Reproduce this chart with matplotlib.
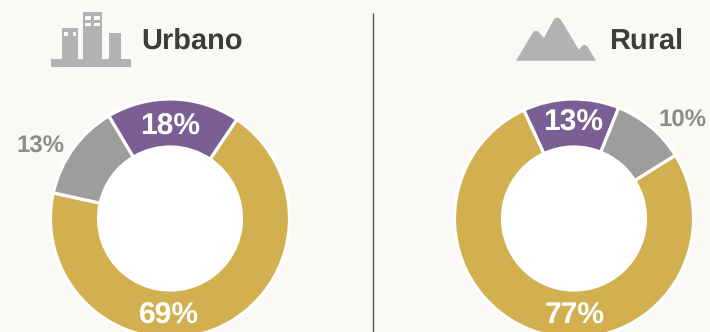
import matplotlib
matplotlib.use("Agg")
import matplotlib.pyplot as plt
from matplotlib.patches import Rectangle, PathPatch, Circle
from matplotlib.path import Path

W, H = 710, 332
BG = "#FAF9F5"
GOLD, GRAY, PURPLE = "#D2B04F", "#9D9D9B", "#7A5E94"
ICON = "#B2B2B2"
plt.rcParams["font.family"] = ["Liberation Sans", "DejaVu Sans"]
plt.rcParams["text.hinting"] = "no_hinting"
plt.rcParams["text.hinting_factor"] = 1

panels = ["Urbano", "Rural"]
urbano_values = [69, 13, 18]
urbano_colors = [GOLD, GRAY, PURPLE]
rural_values = [77, 13, 10]
rural_colors = [GOLD, PURPLE, GRAY]

fig = plt.figure(figsize=(W / 100, H / 100), dpi=100, facecolor=BG)
R = 119.5
INNER = 71.5


def donut(cx, cy, values, colors, start_cw):
    # axes are slightly larger than the ring so the white outline is not clipped
    pad = 3.0
    ax = fig.add_axes([(cx - R - pad) / W, 1 - (cy + R + pad) / H, 2 * (R + pad) / W, 2 * (R + pad) / H])
    ax.axis("off")
    ax.pie(values, colors=colors, startangle=90 - start_cw, counterclock=False,
           radius=1, wedgeprops=dict(width=1 - INNER / R, edgecolor="white", linewidth=2.3))
    ax.add_patch(Circle((0, 0), INNER / R, fc="white", ec="none", zorder=5))
    ax.set_aspect("equal")
    lim = (R + pad) / R
    ax.set_xlim(-lim, lim)
    ax.set_ylim(-lim, lim)


donut(170, 218.5, urbano_values, urbano_colors, 34)
donut(574, 218.5, rural_values, rural_colors, 58)

ov = fig.add_axes([0, 0, 1, 1], facecolor="none")
ov.set_xlim(0, W)
ov.set_ylim(H, 0)
ov.axis("off")

ov.plot([373, 373], [13, H], color="#55554F", lw=1.0, solid_capstyle="butt")

# building icon
for x0, x1, y0, y1 in [(51, 131, 59, 67), (61.5, 78, 28, 60), (83, 102, 12, 60), (109, 120.5, 33, 60)]:
    ov.add_patch(Rectangle((x0, y0), x1 - x0, y1 - y0, fc=ICON, ec="none"))
for x0, x1, y0, y1 in [(64, 67.5, 32, 36), (72.7, 75.8, 32, 36), (85, 90.7, 16, 20),
                       (94, 100, 16, 20), (85, 90.7, 22.7, 26), (94, 100, 22.7, 26)]:
    ov.add_patch(Rectangle((x0, y0), x1 - x0, y1 - y0, fc=BG, ec="none"))

# mountain icon
M, L, C = Path.MOVETO, Path.LINETO, Path.CURVE3
verts = [(516, 60.7), (532.5, 33), (536, 28.5), (539.5, 33), (544, 38), (553.5, 20),
         (557.3, 15), (561, 20), (579, 50), (584, 41), (588, 47.5), (596, 60.7), (516, 60.7)]
codes = [M, L, C, C, L, L, C, C, L, C, C, L, L]
ov.add_patch(PathPatch(Path(verts, codes), fc=ICON, ec="none"))

# titles
ov.text(141.5, 41.5, panels[0], fontsize=21, fontweight="bold", color="#3C3C3B", ha="left", va="center")
ov.text(609, 41.5, panels[1], fontsize=21, fontweight="bold", color="#3C3C3B", ha="left", va="center")

# value labels
big = dict(fontsize=21.5, fontweight="bold", color="white", ha="center", va="center")
small = dict(fontsize=17, fontweight="bold", color="#8C8C8A", ha="center", va="center")
ov.text(170, 126.5, f"{urbano_values[2]}%", **big)
ov.text(41, 147, f"{urbano_values[1]}%", **small)
ov.text(168.5, 316, f"{urbano_values[0]}%", **big)
ov.text(573, 122.5, f"{rural_values[1]}%", **big)
ov.text(683, 120.5, f"{rural_values[2]}%", **small)
ov.text(574.5, 316.5, f"{rural_values[0]}%", **big)

fig.savefig("out.png", dpi=100, facecolor=BG)
